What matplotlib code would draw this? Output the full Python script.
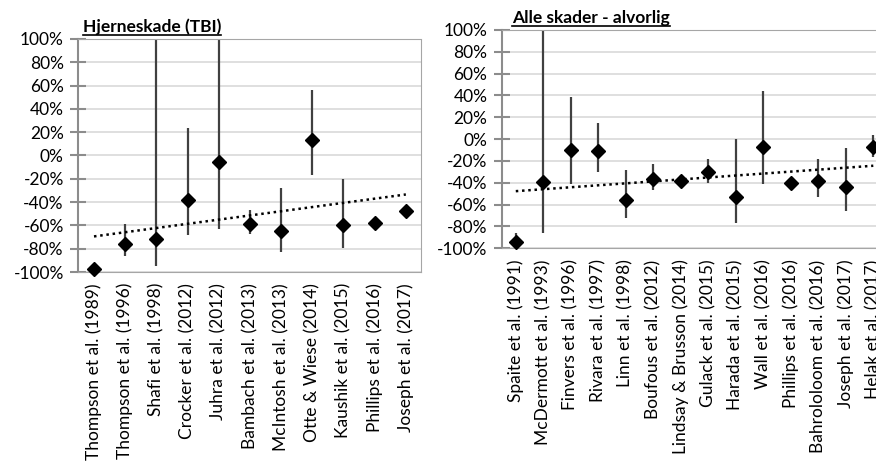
import numpy as np
import matplotlib
matplotlib.use("Agg")
import matplotlib.pyplot as plt
from matplotlib.ticker import FuncFormatter, MultipleLocator
from matplotlib.lines import Line2D

plt.rcParams['font.family'] = ['Lato', 'DejaVu Sans']

# Hjerneskade (TBI)
tbi_labels = ["Thompson et al. (1989)", "Thompson et al. (1996)", "Shafi et al. (1998)",
              "Crocker et al. (2012)", "Juhra et al. (2012)", "Bambach et al. (2013)",
              "McIntosh et al. (2013)", "Otte & Wiese (2014)", "Kaushik et al. (2015)",
              "Phillips et al. (2016)", "Joseph et al. (2017)"]
tbi_est = [-97, -76, -72, -38, -6, -59, -65, 13, -60, -58, -48]
tbi_low = [np.nan, -86, -95, -68, -63, -67, -83, -17, -79, np.nan, np.nan]
tbi_high = [np.nan, -59, 100, 24, 100, -47, -28, 56, -20, np.nan, np.nan]

# Alle skader - alvorlig
all_labels = ["Spaite et al. (1991)", "McDermott et al. (1993)", "Finvers et al. (1996)",
              "Rivara et al. (1997)", "Linn et al. (1998)", "Boufous et al. (2012)",
              "Lindsay & Brusson (2014)", "Gulack et al. (2015)", "Harada et al. (2015)",
              "Wall et al. (2016)", "Phillips et al. (2016)", "Bahrololoom et al. (2016)",
              "Joseph et al. (2017)", "Helak et al. (2017)"]
all_est = [-94, -39, -10, -10.5, -56, -36.5, -38, -30, -53, -7.5, -40.5, -38, -44, -7]
all_low = [-100, -86, -41, -30, -72, -47, -42, -40, -77, -41, np.nan, -53, -66, -16]
all_high = [-86, 100, 39, 15, -28, -23, -33, -18, 0, 44, np.nan, -18, -8, 4]

FS = 12.5


def panel(ax, labels, est, low, high, title, tx, fig):
    x = np.arange(len(labels))
    est = np.array(est, float)
    low = np.array(low, float)
    high = np.array(high, float)

    ax.set_xlim(-0.5, len(labels) - 0.5)
    ax.set_ylim(-100, 100)
    ax.yaxis.set_major_locator(MultipleLocator(20))
    ax.yaxis.set_major_formatter(FuncFormatter(lambda v, p: "%d%%" % round(v)))
    ax.grid(axis='y', color='#d9d9d9', lw=1.2, zorder=0)
    ax.set_axisbelow(True)

    for s in ['top', 'right', 'bottom']:
        ax.spines[s].set_linestyle((0, (1, 1)))
        ax.spines[s].set_color('#a6a6a6')
        ax.spines[s].set_linewidth(0.8)
    ax.spines['left'].set_color('#8c8c8c')
    ax.spines['left'].set_linewidth(1.5)
    ax.tick_params(axis='y', direction='inout', length=11, width=1.5, color='#8c8c8c',
                   labelsize=FS, pad=5)
    ax.tick_params(axis='x', length=0, pad=8, labelsize=FS)
    ax.set_xticks(x)
    ax.set_xticklabels(labels, rotation=90, va='top')

    m = ~np.isnan(low)
    ax.vlines(x[m], low[m], high[m], color='#404040', lw=1.6, zorder=2)

    # linear trend line
    k, b = np.polyfit(x, est, 1)
    ax.plot(x, k * x + b, color='black', lw=1.8, ls=(0, (1, 1.5)), zorder=3)

    ax.plot(x, est, 'D', color='black', ms=7.3, zorder=4, clip_on=False)

    t = ax.text(tx, 1.03, title, transform=ax.transAxes, fontsize=FS,
                fontweight='bold', ha='left', va='baseline')
    fig.canvas.draw()
    bb = t.get_window_extent().transformed(fig.transFigure.inverted())
    fig.add_artist(Line2D([bb.x0, bb.x1], [bb.y0 + 0.001, bb.y0 + 0.001],
                          color='black', lw=1.2, transform=fig.transFigure))


fig = plt.figure(figsize=(8.76, 4.68), dpi=100)
ax1 = fig.add_axes([0.0895, 0.4188, 0.3916, 0.4979])
ax2 = fig.add_axes([0.5731, 0.4694, 0.4395, 0.4665])

panel(ax1, tbi_labels, tbi_est, tbi_low, tbi_high, "Hjerneskade (TBI)", 0.013, fig)
panel(ax2, all_labels, all_est, all_low, all_high, "Alle skader - alvorlig", 0.026, fig)

fig.savefig("out.png", dpi=100)
